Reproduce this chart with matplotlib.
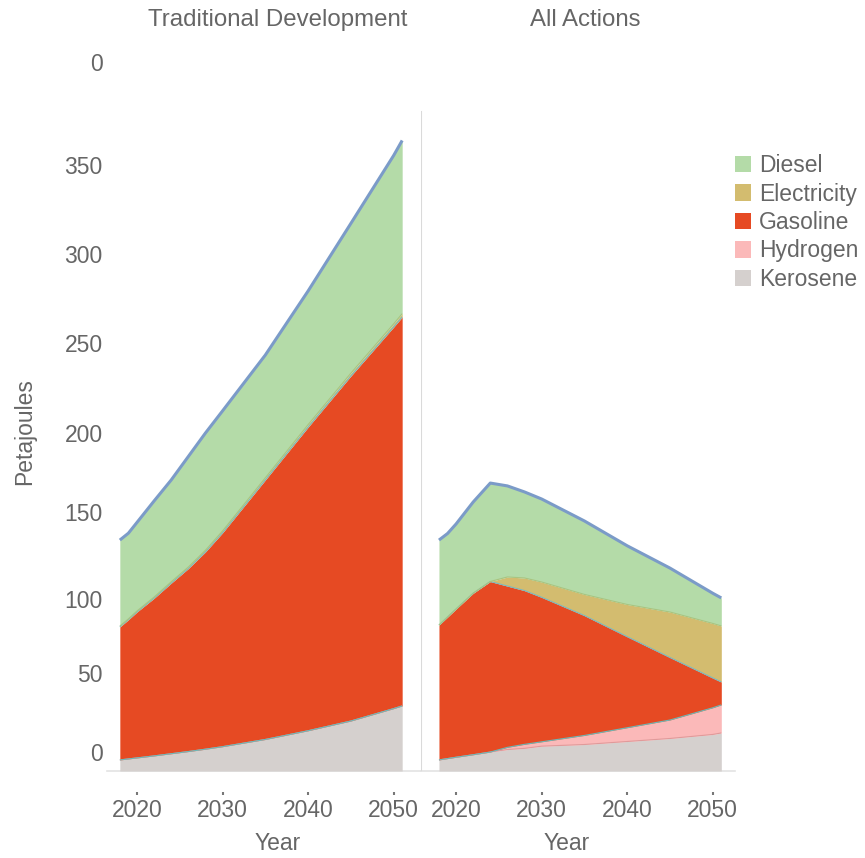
import matplotlib
matplotlib.use("Agg")
import matplotlib.pyplot as plt
from matplotlib.patches import Patch
import numpy as np

plt.rcParams['font.family'] = ['Liberation Sans', 'DejaVu Sans']

years = [2018, 2019, 2020, 2022, 2024, 2026, 2028, 2030, 2035, 2040, 2045, 2050, 2051]

# Traditional Development (PJ)
td_kerosene = [6.6, 7.2, 7.8, 9.0, 10.3, 11.6, 13.0, 14.5, 18.8, 24.0, 29.8, 37.2, 38.8]
td_hydrogen = [0, 0, 0, 0, 0, 0, 0, 0, 0, 0, 0, 0, 0]
td_gasoline = [79.3, 83.0, 87.0, 94.0, 101.7, 109.1, 117.6, 127.5, 154.7, 181.0, 205.7, 227.5, 231.9]
td_electricity = [0.5, 0.5, 0.6, 0.7, 0.8, 0.9, 1.0, 1.1, 1.3, 1.5, 1.7, 1.9, 2.0]
td_diesel = [51.3, 51.1, 52.8, 57.3, 60.7, 65.9, 69.9, 71.6, 73.2, 79.7, 89.3, 100.4, 103.3]

# All Actions (PJ)
aa_kerosene = [6.6, 7.4, 8.2, 9.7, 11.3, 12.8, 13.5, 14.8, 15.8, 17.6, 19.4, 21.8, 22.7]
aa_hydrogen = [0, 0, 0, 0, 0, 1.3, 2.4, 2.6, 5.4, 8.2, 11.0, 15.9, 16.7]
aa_gasoline = [80.4, 84.4, 88.4, 96.3, 101.7, 96.2, 91.7, 86.2, 71.5, 54.3, 37.3, 17.8, 13.7]
aa_electricity = [0, 0, 0, 0, 0, 5.4, 7.5, 9.1, 12.6, 19.2, 27.1, 32.5, 33.4]
aa_diesel = [50.7, 49.8, 50.7, 54.4, 58.7, 54.3, 51.3, 49.5, 43.8, 35.0, 26.2, 18.0, 16.7]

panel_titles = ["Traditional Development", "All Actions"]
fuels = ["Kerosene", "Hydrogen", "Gasoline", "Electricity", "Diesel"]
fill_colors = {"Diesel": "#b4dba8", "Electricity": "#d3bc6f", "Gasoline": "#e64a23",
               "Hydrogen": "#fbb9b9", "Kerosene": "#d5d0ce"}
edge_colors = {"Kerosene": "#e09a9a", "Hydrogen": "#6cb8b8", "Gasoline": "#7ab8c0",
               "Electricity": "#a9c47f", "Diesel": "#7b9bc8"}

ytick_pos = [11.3, 58.4, 102.6, 154.4, 201.6, 255.2, 308.3, 361.4, 422.8]
ytick_labels = ["0", "50", "100", "150", "200", "250", "300", "350", "0"]
xticks = [2020, 2030, 2040, 2050]

text_color = "#666666"
fs = 16.5

W, H = 865, 858
fig = plt.figure(figsize=(W / 100, H / 100), dpi=100)

def fbox(x0, x1, ytop, ybot):
    return [x0 / W, 1 - ybot / H, (x1 - x0) / W, (ybot - ytop) / H]

ax1 = fig.add_axes(fbox(107, 421, 40, 771))
ax2 = fig.add_axes(fbox(421, 735, 40, 771))

panels = [
    (ax1, [td_kerosene, td_hydrogen, td_gasoline, td_electricity, td_diesel], (2016.5, 2053.2)),
    (ax2, [aa_kerosene, aa_hydrogen, aa_gasoline, aa_electricity, aa_diesel], (2015.9, 2052.6)),
]

ymax = 731 / 1.677
for ax, series, xl in panels:
    base = np.zeros(len(years))
    tops = []
    for name, vals in zip(fuels, series):
        top = base + np.array(vals, dtype=float)
        ax.fill_between(years, base, top, color=fill_colors[name], linewidth=0, zorder=2)
        tops.append((name, top))
        base = top
    for name, top in tops:
        lw = 2.2 if name == "Diesel" else 0.8
        ax.plot(years, top, color=edge_colors[name], linewidth=lw, zorder=3,
                solid_capstyle="butt")
    ax.set_xlim(*xl)
    ax.set_ylim(0, ymax)
    for s in ["top", "right", "left"]:
        ax.spines[s].set_visible(False)
    ax.spines["bottom"].set_position(("outward", 15))
    ax.spines["bottom"].set_visible(False)
    ax.axhline(0, color="#e3e3e3", linewidth=1.2, zorder=1, clip_on=False)
    ax.set_xticks(xticks)
    ax.set_xticklabels([str(x) for x in xticks])
    ax.tick_params(axis="x", length=2.5, width=1.5, color="#777777", labelsize=fs,
                   labelcolor=text_color, pad=3)
    ax.patch.set_alpha(0)

ax1.set_yticks(ytick_pos)
ax1.set_yticklabels(ytick_labels)
ax1.tick_params(axis="y", length=0, labelsize=fs, labelcolor=text_color, pad=3)
ax2.set_yticks([])

# panel divider
ax2.axvline(ax2.get_xlim()[0], ymin=0, ymax=(771 - 112) / 731, color="#dadada",
            linewidth=1.5, zorder=1)

fig.text(278 / W, 1 - 20 / H, panel_titles[0], ha="center", va="center",
         fontsize=17.3, color=text_color)
fig.text(585 / W, 1 - 20 / H, panel_titles[1], ha="center", va="center",
         fontsize=17.3, color=text_color)
fig.text(278 / W, 1 - 843 / H, "Year", ha="center", va="center", fontsize=fs, color=text_color)
fig.text(567 / W, 1 - 843 / H, "Year", ha="center", va="center", fontsize=fs, color=text_color)
fig.text(25 / W, 1 - 432 / H, "Petajoules", ha="center", va="center", rotation=90,
         fontsize=fs, color=text_color)

legend_order = ["Diesel", "Electricity", "Gasoline", "Hydrogen", "Kerosene"]
handles = [Patch(facecolor=fill_colors[n], edgecolor="none") for n in legend_order]
fig.legend(handles, legend_order, loc="upper left", bbox_to_anchor=(735 / W, 1 - 154 / H),
           frameon=False, fontsize=fs, labelcolor=text_color, handlelength=0.7,
           handleheight=0.7, handletextpad=0.35, labelspacing=0.24, borderpad=0,
           borderaxespad=0)

fig.savefig("out.png", dpi=100)
